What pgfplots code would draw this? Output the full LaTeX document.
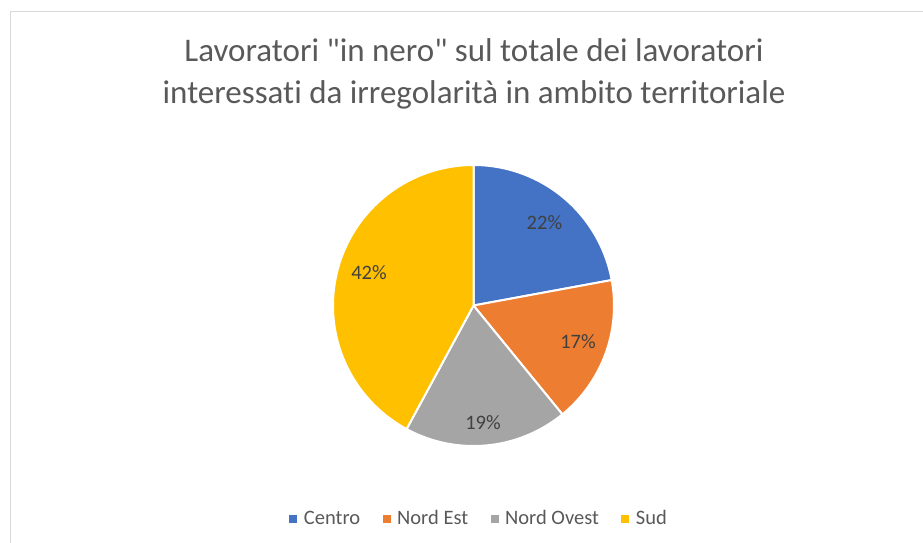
\documentclass[border=0pt]{standalone}
\usepackage{fontspec}
\setmainfont{Carlito}[Ligatures={TeXOff,NoCommon}]
\usepackage{pgfplots}
\usepackage{pgfplotstable}
\pgfplotsset{compat=1.18}
\definecolor{cCentro}{HTML}{4472C4}
\definecolor{cNordEst}{HTML}{ED7D31}
\definecolor{cNordOvest}{HTML}{A5A5A5}
\definecolor{cSud}{HTML}{FFC000}
\definecolor{cTitle}{HTML}{595959}
\definecolor{cLabel}{HTML}{404040}
\definecolor{cBorder}{HTML}{D9D9D9}

\pgfplotstableread{
regione valore
Centro 22.1
NordEst 17.0
NordOvest 18.8
Sud 42.1
}\datatable

\pgfplotsset{sq/.style={legend image code/.code={\fill[fill=#1, draw=none] (0pt,-4pt) rectangle (8pt,4pt); \path[draw=none, fill=none] (0pt,0pt) -- (11pt,0pt);}}}

\begin{document}
\begin{tikzpicture}[x=1pt,y=1pt]
\useasboundingbox (0pt,0pt) rectangle (923pt,542pt);
\draw[color=cBorder, line width=1.2pt] (10.5pt,-1pt) -- (10.5pt,530.5pt) -- (924pt,530.5pt);
\node[anchor=base, font=\fontsize{33}{38}\selectfont, text=cTitle, inner sep=0pt] at (474pt,480.5pt) {Lavoratori "in nero" sul totale dei lavoratori};
\node[anchor=base, font=\fontsize{33}{38}\selectfont, text=cTitle, inner sep=0pt] at (474pt,438.5pt) {interessati da irregolarità in ambito territoriale};

\pgfplotstablegetelem{0}{valore}\of\datatable \pgfmathsetmacro\vA{\pgfplotsretval}
\pgfplotstablegetelem{1}{valore}\of\datatable \pgfmathsetmacro\vB{\pgfplotsretval}
\pgfplotstablegetelem{2}{valore}\of\datatable \pgfmathsetmacro\vC{\pgfplotsretval}
\pgfplotstablegetelem{3}{valore}\of\datatable \pgfmathsetmacro\vD{\pgfplotsretval}
\pgfmathsetmacro\aA{90}
\pgfmathsetmacro\aB{\aA-3.6*\vA}
\pgfmathsetmacro\aC{\aB-3.6*\vB}
\pgfmathsetmacro\aD{\aC-3.6*\vC}
\pgfmathsetmacro\aE{\aD-3.6*\vD}

\begin{axis}[
  at={(333pt,96pt)}, anchor=south west,
  scale only axis, width=281pt, height=281pt,
  xmin=-1, xmax=1, ymin=-1, ymax=1,
  hide axis, clip=false,
  legend columns=4,
  legend style={at={(0.523,-0.258)}, anchor=center, draw=none, fill=white,
    font=\fontsize{20.5}{24}\selectfont, text=cTitle,
    nodes={inner xsep=3.5pt, inner ysep=1pt},
    /tikz/every even column/.append style={column sep=19pt}},
]
\addplot[forget plot, fill=cCentro, draw=white, line width=2pt, domain=\aB:\aA, samples=80, variable=\t] ({cos(\t)},{sin(\t)}) -- (axis cs:0,0) -- cycle;
\addplot[forget plot, fill=cNordEst, draw=white, line width=2pt, domain=\aC:\aB, samples=80, variable=\t] ({cos(\t)},{sin(\t)}) -- (axis cs:0,0) -- cycle;
\addplot[forget plot, fill=cNordOvest, draw=white, line width=2pt, domain=\aD:\aC, samples=80, variable=\t] ({cos(\t)},{sin(\t)}) -- (axis cs:0,0) -- cycle;
\addplot[forget plot, fill=cSud, draw=white, line width=2pt, domain=\aE:\aD, samples=120, variable=\t] ({cos(\t)},{sin(\t)}) -- (axis cs:0,0) -- cycle;

\addlegendimage{sq=cCentro}
\addlegendentry{Centro}
\addlegendimage{sq=cNordEst}
\addlegendentry{Nord Est}
\addlegendimage{sq=cNordOvest}
\addlegendentry{Nord Ovest}
\addlegendimage{sq=cSud}
\addlegendentry{Sud}

\node[font=\fontsize{20.5}{24}\selectfont, text=cLabel] at (axis cs:0.505,0.587) {22\%};
\node[font=\fontsize{20.5}{24}\selectfont, text=cLabel] at (axis cs:0.744,-0.260) {17\%};
\node[font=\fontsize{20.5}{24}\selectfont, text=cLabel] at (axis cs:0.068,-0.833) {19\%};
\node[font=\fontsize{20.5}{24}\selectfont, text=cLabel] at (axis cs:-0.744,0.235) {42\%};
\end{axis}
\end{tikzpicture}
\end{document}
